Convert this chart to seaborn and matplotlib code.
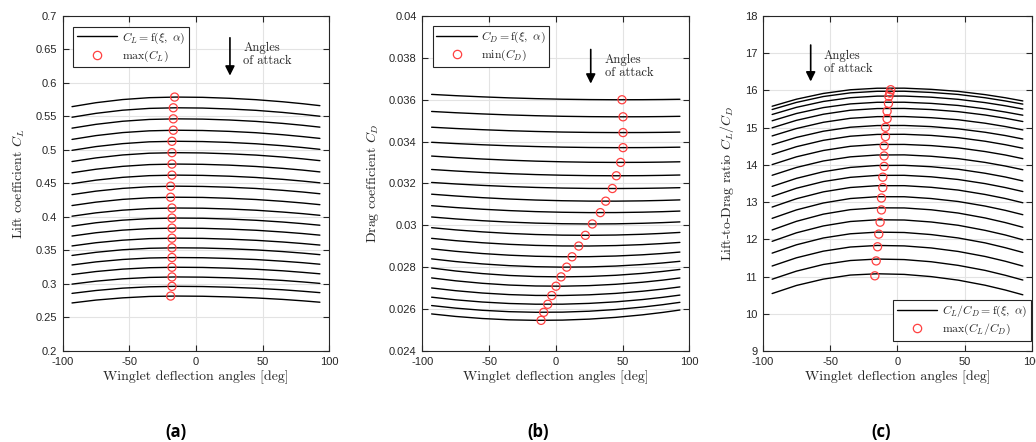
import numpy as np
import pandas as pd
import seaborn as sns
import matplotlib.pyplot as plt
from matplotlib.lines import Line2D

xi = [-93, -75, -55, -35, -15, 5, 25, 45, 65, 80, 93]

# lift coefficient, one row per angle of attack (top curve first)
cl_curves = [
    [0.5647, 0.5706, 0.5753, 0.5781, 0.5790, 0.5786, 0.5772, 0.5751, 0.5720, 0.5691, 0.5662],
    [0.5489, 0.5547, 0.5594, 0.5621, 0.5630, 0.5626, 0.5612, 0.5592, 0.5561, 0.5532, 0.5504],
    [0.5326, 0.5383, 0.5429, 0.5456, 0.5465, 0.5461, 0.5448, 0.5427, 0.5397, 0.5369, 0.5341],
    [0.5158, 0.5215, 0.5260, 0.5286, 0.5295, 0.5291, 0.5278, 0.5258, 0.5228, 0.5200, 0.5173],
    [0.4995, 0.5051, 0.5095, 0.5122, 0.5130, 0.5126, 0.5113, 0.5093, 0.5064, 0.5037, 0.5010],
    [0.4828, 0.4882, 0.4926, 0.4952, 0.4960, 0.4956, 0.4943, 0.4924, 0.4895, 0.4868, 0.4841],
    [0.4660, 0.4713, 0.4756, 0.4782, 0.4790, 0.4786, 0.4774, 0.4754, 0.4726, 0.4700, 0.4673],
    [0.4497, 0.4550, 0.4592, 0.4617, 0.4625, 0.4621, 0.4609, 0.4590, 0.4562, 0.4536, 0.4510],
    [0.4334, 0.4386, 0.4427, 0.4452, 0.4460, 0.4456, 0.4444, 0.4426, 0.4398, 0.4373, 0.4347],
    [0.4171, 0.4222, 0.4263, 0.4287, 0.4295, 0.4292, 0.4279, 0.4261, 0.4234, 0.4209, 0.4184],
    [0.4012, 0.4062, 0.4102, 0.4126, 0.4134, 0.4131, 0.4119, 0.4101, 0.4074, 0.4050, 0.4025],
    [0.3864, 0.3914, 0.3953, 0.3976, 0.3984, 0.3981, 0.3969, 0.3951, 0.3925, 0.3901, 0.3877],
    [0.3716, 0.3765, 0.3804, 0.3827, 0.3834, 0.3831, 0.3819, 0.3802, 0.3776, 0.3753, 0.3729],
    [0.3568, 0.3616, 0.3654, 0.3677, 0.3684, 0.3681, 0.3669, 0.3652, 0.3627, 0.3604, 0.3581],
    [0.3426, 0.3473, 0.3511, 0.3533, 0.3540, 0.3537, 0.3526, 0.3509, 0.3484, 0.3461, 0.3438],
    [0.3284, 0.3330, 0.3366, 0.3388, 0.3395, 0.3392, 0.3381, 0.3365, 0.3340, 0.3318, 0.3295],
    [0.3141, 0.3186, 0.3222, 0.3243, 0.3250, 0.3247, 0.3236, 0.3220, 0.3197, 0.3174, 0.3152],
    [0.2998, 0.3042, 0.3077, 0.3098, 0.3105, 0.3102, 0.3092, 0.3076, 0.3053, 0.3031, 0.3009],
    [0.2860, 0.2903, 0.2938, 0.2958, 0.2965, 0.2962, 0.2952, 0.2936, 0.2914, 0.2892, 0.2871],
    [0.2717, 0.2760, 0.2793, 0.2814, 0.2820, 0.2817, 0.2807, 0.2792, 0.2770, 0.2749, 0.2728],
]

# drag coefficient, same layout
cd_curves = [
    [0.036256, 0.036195, 0.036138, 0.036090, 0.036053, 0.036025, 0.036008, 0.036000, 0.036003, 0.036011, 0.036023],
    [0.035441, 0.035380, 0.035323, 0.035275, 0.035238, 0.035210, 0.035193, 0.035185, 0.035188, 0.035196, 0.035208],
    [0.034688, 0.034627, 0.034570, 0.034522, 0.034485, 0.034457, 0.034440, 0.034432, 0.034435, 0.034443, 0.034455],
    [0.033968, 0.033907, 0.033850, 0.033802, 0.033765, 0.033737, 0.033720, 0.033712, 0.033715, 0.033723, 0.033735],
    [0.033310, 0.033238, 0.033169, 0.033113, 0.033068, 0.033036, 0.033015, 0.033007, 0.033011, 0.033022, 0.033037],
    [0.032670, 0.032597, 0.032527, 0.032470, 0.032426, 0.032395, 0.032376, 0.032369, 0.032375, 0.032388, 0.032405],
    [0.032050, 0.031978, 0.031910, 0.031855, 0.031812, 0.031782, 0.031765, 0.031760, 0.031768, 0.031782, 0.031800],
    [0.031489, 0.031404, 0.031323, 0.031259, 0.031210, 0.031177, 0.031159, 0.031157, 0.031171, 0.031192, 0.031217],
    [0.030940, 0.030852, 0.030771, 0.030706, 0.030657, 0.030626, 0.030610, 0.030612, 0.030630, 0.030654, 0.030683],
    [0.030400, 0.030308, 0.030223, 0.030157, 0.030108, 0.030079, 0.030067, 0.030074, 0.030100, 0.030131, 0.030166],
    [0.029890, 0.029785, 0.029689, 0.029615, 0.029563, 0.029533, 0.029525, 0.029539, 0.029575, 0.029617, 0.029663],
    [0.029380, 0.029270, 0.029170, 0.029095, 0.029043, 0.029017, 0.029014, 0.029035, 0.029081, 0.029132, 0.029186],
    [0.028880, 0.028761, 0.028654, 0.028576, 0.028524, 0.028501, 0.028505, 0.028536, 0.028595, 0.028657, 0.028724],
    [0.028400, 0.028272, 0.028159, 0.028077, 0.028026, 0.028005, 0.028016, 0.028057, 0.028130, 0.028204, 0.028283],
    [0.027963, 0.027821, 0.027697, 0.027608, 0.027556, 0.027540, 0.027560, 0.027616, 0.027707, 0.027800, 0.027896],
    [0.027490, 0.027352, 0.027233, 0.027150, 0.027105, 0.027095, 0.027122, 0.027186, 0.027285, 0.027384, 0.027487],
    [0.027010, 0.026880, 0.026769, 0.026694, 0.026654, 0.026651, 0.026683, 0.026751, 0.026855, 0.026956, 0.027060],
    [0.026570, 0.026444, 0.026339, 0.026269, 0.026235, 0.026236, 0.026274, 0.026348, 0.026457, 0.026562, 0.026670],
    [0.026170, 0.026047, 0.025944, 0.025878, 0.025849, 0.025856, 0.025900, 0.025981, 0.026098, 0.026210, 0.026324],
    [0.025770, 0.025650, 0.025551, 0.025489, 0.025464, 0.025475, 0.025522, 0.025606, 0.025727, 0.025841, 0.025957],
]

# optimum points (red circles)
cl_max_xi = [-16, -17, -17, -17, -18, -18, -18, -18, -19, -19, -18, -18, -18, -18, -18, -18, -18, -18, -18, -19]
cl_max = [0.5790, 0.5630, 0.5465, 0.5295, 0.5130, 0.4960, 0.4790, 0.4625, 0.4460, 0.4295,
          0.4134, 0.3984, 0.3834, 0.3684, 0.3540, 0.3395, 0.3250, 0.3105, 0.2965, 0.2820]
cd_min_xi = [49.6, 50.4, 50.4, 50.4, 48.6, 45.4, 42.4, 37.4, 33.4, 27.4,
             22.2, 17.2, 12.2, 8.2, 4.0, 0.2, -3.0, -6.0, -9.0, -11.0]
cd_min = [0.03600, 0.035185, 0.034432, 0.033712, 0.033007, 0.032369, 0.031760, 0.031156, 0.030609, 0.030067,
          0.029525, 0.029012, 0.028499, 0.028005, 0.027540, 0.027094, 0.026648, 0.026231, 0.025847, 0.025463]
ld_max_xi = [-5.0, -5.7, -6.4, -6.7, -7.7, -7.7, -8.9, -8.9, -9.9, -9.9,
             -9.9, -10.9, -10.9, -11.9, -11.9, -12.9, -13.9, -14.8, -15.8, -16.8]
ld_max = [16.02, 15.93, 15.84, 15.65, 15.44, 15.24, 15.01, 14.76, 14.51, 14.24,
          13.96, 13.67, 13.39, 13.11, 12.79, 12.46, 12.14, 11.80, 11.42, 11.02]

rows = []
for k, (cl_row, cd_row) in enumerate(zip(cl_curves, cd_curves)):
    for x, cl, cd in zip(xi, cl_row, cd_row):
        rows.append({'curve': k, 'xi': x, 'CL': cl, 'CD': cd})
df = pd.DataFrame(rows)
df['LD'] = df['CL'] / df['CD']

sns.set_style('ticks')
plt.rcParams['font.family'] = ['Liberation Sans', 'DejaVu Sans']
plt.rcParams['mathtext.fontset'] = 'cm'
plt.rcParams['axes.unicode_minus'] = False

RED = '#ff4040'
DARK = '#262626'
SERIF = 'cmr10'

fig = plt.figure(figsize=(10.36, 4.42), dpi=100)
ax_a = fig.add_axes([0.0605, 0.2059, 0.2573, 0.7579])
ax_b = fig.add_axes([0.4076, 0.2059, 0.2577, 0.7579])
ax_c = fig.add_axes([0.7362, 0.2059, 0.2602, 0.7579])


def style_axes(ax, yticks, ylabel):
    ax.set_xlim(-100, 100)
    ax.set_ylim(yticks[0], yticks[-1])
    ax.set_xticks([-100, -50, 0, 50, 100])
    ax.set_xticklabels(['-100', '-50', '0', '50', '100'])
    ax.set_yticks(yticks)
    ax.set_yticklabels(['{:g}'.format(round(v, 4)) for v in yticks])
    ax.tick_params(direction='in', length=4, width=0.8, colors=DARK, labelsize=8,
                   top=True, right=True, pad=4)
    ax.grid(True, color='#e3e3e3', lw=0.8)
    ax.set_axisbelow(True)
    for s in ax.spines.values():
        s.set_color(DARK)
        s.set_linewidth(0.8)
    ax.set_xlabel('Winglet deflection angles [deg]', fontfamily=SERIF, fontsize=10, color=DARK, labelpad=3)
    ax.set_ylabel(ylabel, fontfamily=SERIF, fontsize=10, color=DARK, labelpad=6)


def draw_panel(ax, col, px, py):
    sns.lineplot(data=df, x='xi', y=col, units='curve', estimator=None, sort=False,
                 color='k', lw=1.0, ax=ax, legend=False)
    sns.scatterplot(x=px, y=py, ax=ax, marker='o', s=34, facecolor='none',
                    edgecolor=RED, linewidth=0.9, zorder=3, legend=False)


def add_legend(ax, line_lbl, pt_lbl, loc, anchor):
    handles = [Line2D([], [], color='k', lw=1.0),
               Line2D([], [], ls='none', marker='o', ms=6, mfc='none', mec=RED, mew=0.9)]
    leg = ax.legend(handles, [line_lbl, pt_lbl], loc=loc, bbox_to_anchor=anchor,
                    borderaxespad=0, fontsize=8.5, handlelength=3.4, handletextpad=0.4,
                    borderpad=0.3, labelspacing=0.25, fancybox=False, framealpha=1,
                    edgecolor=DARK)
    leg.get_frame().set_linewidth(0.8)


def add_arrow(ax, x, y0, y1, tx, ty):
    ax.annotate('', xy=(x, y1), xytext=(x, y0),
                arrowprops=dict(arrowstyle='-|>', color='k', lw=1.2, mutation_scale=14,
                                shrinkA=0, shrinkB=0))
    ax.text(tx, ty, 'Angles\nof attack', ha='left', va='center', fontfamily=SERIF,
            fontsize=9, linespacing=1.15)


# (a) lift
draw_panel(ax_a, 'CL', cl_max_xi, cl_max)
style_axes(ax_a, [0.2, 0.25, 0.3, 0.35, 0.4, 0.45, 0.5, 0.55, 0.6, 0.65, 0.7], r'Lift coefficient $C_L$')
add_legend(ax_a, r'$C_L = \mathrm{f}(\xi,\ \alpha)$', r'$\max(C_L)$', 'upper left', (0.04, 0.968))
add_arrow(ax_a, 25.5, 0.6675, 0.611, 35.5, 0.6425)

# (b) drag
draw_panel(ax_b, 'CD', cd_min_xi, cd_min)
style_axes(ax_b, [0.024, 0.026, 0.028, 0.03, 0.032, 0.034, 0.036, 0.038, 0.04], r'Drag coefficient $C_D$')
add_legend(ax_b, r'$C_D = \mathrm{f}(\xi,\ \alpha)$', r'$\min(C_D)$', 'upper left', (0.04, 0.97))
add_arrow(ax_b, 26.2, 0.0384, 0.03677, 36.9, 0.0376)

# (c) lift-to-drag
draw_panel(ax_c, 'LD', ld_max_xi, ld_max)
style_axes(ax_c, [9, 10, 11, 12, 13, 14, 15, 16, 17, 18], r'Lift-to-Drag ratio $C_L/C_D$')
add_legend(ax_c, r'$C_L/C_D = \mathrm{f}(\xi,\ \alpha)$', r'$\max(C_L/C_D)$', 'lower right', (0.994, 0.031))
add_arrow(ax_c, -64.4, 17.22, 16.24, -54.6, 16.75)

for lbl, xc in [('(a)', 176), ('(b)', 538), ('(c)', 881)]:
    fig.text(xc / 1036, 1 - 432 / 442, lbl, ha='center', va='center', fontsize=12,
             fontweight='bold', fontfamily='Open Sans', color='k')

fig.savefig('out.png', dpi=100)
